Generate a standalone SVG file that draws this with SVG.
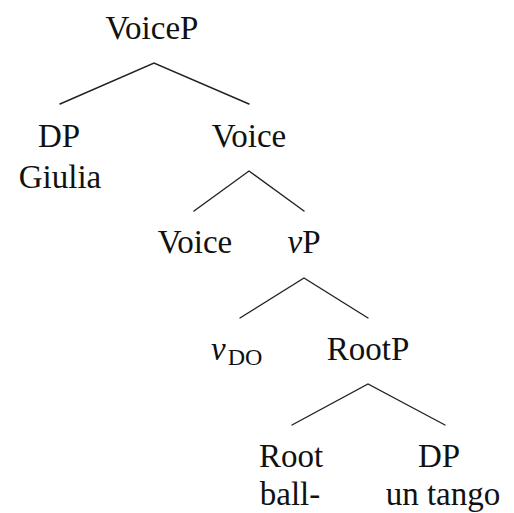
<svg xmlns="http://www.w3.org/2000/svg" width="514" height="513" viewBox="0 0 514 513">
  <style>
    text { font-family: "Liberation Serif", "DejaVu Serif", serif; font-size: 33px; fill: #111; text-anchor: middle; }
    .it { font-style: italic; }
    .sub { font-size: 24px; }
    .edge { stroke: #222; stroke-width: 1.4; fill: none; stroke-linecap: round; }
  </style>
  <rect width="514" height="513" fill="#fff"/>

  <g id="edges">
    <polyline class="edge" points="60,104 154,63 249,104"/>
    <polyline class="edge" points="194,211 249,171 304,211"/>
    <polyline class="edge" points="240,318 304,278 368,318"/>
    <polyline class="edge" points="292,425 368,384 445,425"/>
  </g>

  <g id="n-voicep"><text x="152" y="39">VoiceP</text></g>
  <g id="n-dp-giulia">
    <text x="59" y="147">DP</text>
    <text x="60" y="188">Giulia</text>
  </g>
  <g id="n-voice-bar"><text x="249" y="147">Voice</text></g>
  <g id="n-voice-head"><text x="195" y="253">Voice</text></g>
  <g id="n-vp"><text x="304" y="253"><tspan class="it">v</tspan>P</text></g>
  <g id="n-vdo"><text x="211" y="360" style="text-anchor:start"><tspan class="it">v</tspan><tspan class="sub" dx="2" dy="5">DO</tspan></text></g>
  <g id="n-rootp"><text x="368" y="360">RootP</text></g>
  <g id="n-root">
    <text x="291" y="467">Root</text>
    <text x="290" y="505">ball-</text>
  </g>
  <g id="n-dp-tango">
    <text x="439" y="467">DP</text>
    <text x="443" y="505">un tango</text>
  </g>
</svg>
